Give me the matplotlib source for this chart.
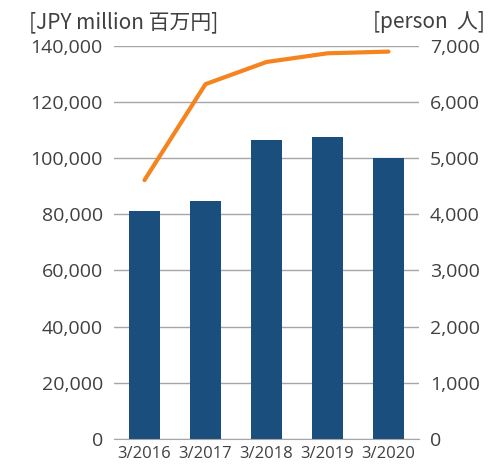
import matplotlib
matplotlib.use("Agg")
import matplotlib.pyplot as plt
from matplotlib.ticker import FuncFormatter

plt.rcParams["font.family"] = ["Open Sans", "Noto Sans CJK JP", "DejaVu Sans"]

years = ["3/2016", "3/2017", "3/2018", "3/2019", "3/2020"]
sales = [81200, 84700, 106400, 107600, 100000]      # JPY million
employees = [4610, 6320, 6715, 6870, 6900]          # persons

BAR = "#1a4e7d"
LINE = "#f5841f"
GRID = "#a6a6a6"
TXT = "#404040"

fig = plt.figure(figsize=(4.88, 4.68), dpi=100)
ax = fig.add_axes([0.2336, 0.0626, 0.625, 0.8391])
x = range(len(years))
ax.bar(x, sales, width=0.51, color=BAR, zorder=2)
ax.set_xlim(-0.5, 4.5)
ax.set_ylim(0, 140000)
ax.set_yticks(range(0, 140001, 20000))
ax.yaxis.set_major_formatter(FuncFormatter(lambda v, p: f"{int(v):,}"))
ax.grid(axis="y", color=GRID, lw=1, zorder=0)
for sp in ("top", "right", "left"):
    ax.spines[sp].set_visible(False)
ax.spines["bottom"].set_color(GRID)
ax.set_xticks(list(x), years)
ax.tick_params(axis="y", length=0, pad=8, labelsize=14, labelcolor=TXT)
ax.tick_params(axis="x", length=0, pad=5, labelsize=12, labelcolor=TXT)

ax2 = ax.twinx()
ax2.plot(list(x), employees, color=LINE, lw=3, solid_capstyle="round", zorder=3)
ax2.set_ylim(0, 7000)
ax2.set_yticks(range(0, 7001, 1000))
ax2.yaxis.set_major_formatter(FuncFormatter(lambda v, p: f"{int(v):,}"))
ax2.tick_params(axis="y", length=0, pad=8, labelsize=14, labelcolor=TXT)
for sp in ax2.spines.values():
    sp.set_visible(False)

cjk = "Noto Sans CJK JP"
fig.text(29 / 488, 0.952, "[JPY million 百万円]", fontsize=15, color=TXT,
         ha="left", va="center", family=cjk)
fig.text(485 / 488, 0.952, "[person  人]", fontsize=15, color=TXT,
         ha="right", va="center", family=cjk)

fig.savefig("out.png", dpi=100)
